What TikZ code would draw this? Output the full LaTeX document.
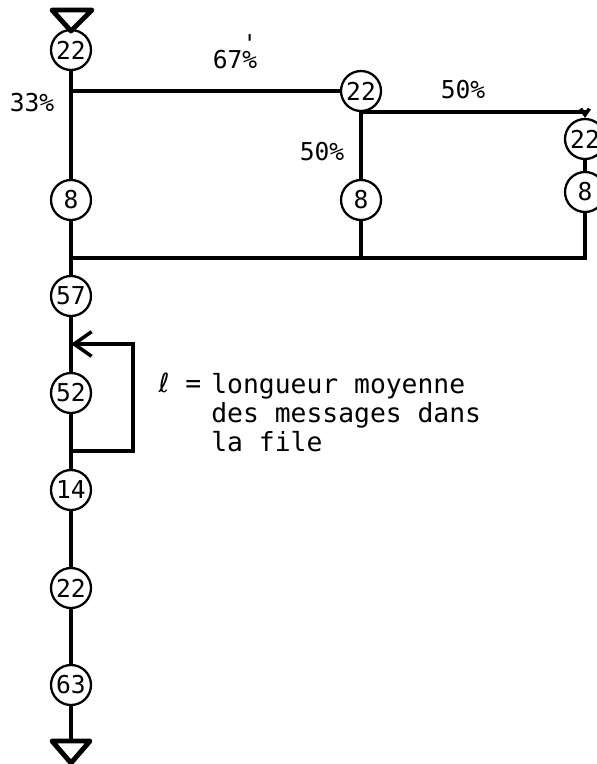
\documentclass[tikz,border=0pt]{standalone}
\usepackage{fontspec}
\newfontfamily\plotter{DejaVu Sans Mono}
\newfontfamily\plotsans{DejaVu Sans}
\usetikzlibrary{arrows.meta,positioning,calc}

\begin{document}
\begin{tikzpicture}[
    x=0.02cm, y=-0.02cm,
    >={Straight Barb[length=10pt, width=14pt]},
    queue/.style={draw, circle, line width=1.3pt, minimum size=0.8cm, inner sep=0pt,
                  font=\plotter\fontsize{14}{16}\selectfont},
    flow/.style={line width=2pt},
    term/.style={line width=2.8pt, line join=round},
    pct/.style={font=\plotter\fontsize{14}{16}\selectfont},
    note/.style={font=\plotter\fontsize{15}{16.5}\selectfont, align=left, inner sep=0pt},
]
\useasboundingbox (0,0) rectangle (597,764);

% source
\draw[term] (52,10) -- (92,10) -- (71,31) -- cycle;

% upper part, three branches
\node[queue] (q1) at (71,50) {22};
\node[queue] (q2) at (361,91) {22};
\node[queue] (q3) at (585,139) {22};
\node[queue] (q4) at (71,200) {8};
\node[queue] (q5) at (361,200) {8};
\node[queue] (q6) at (585,192) {8};
\coordinate (merge) at (71,258);

\draw[flow] (q1.south) -- (q4.north);
\draw[flow] (q1 |- q2.west) -- (q2.west);
\draw[flow, -{Straight Barb[length=3.5pt, width=5pt]}] (q2.south) -| (q3.north);
\draw[flow] (q2.south) -- (q5.north);
\draw[flow] (q3.south) -- (q6.north);
\foreach \q in {q5, q6}
    \draw[flow] (\q.south) |- (merge);

\node[pct, anchor=base] (p67) at (235,68) {67\%\llap{\raisebox{0.65em}{'}}};
\node[pct] (p33) at (32,103) {33\%};
\node[pct] (p50a) at (463,90) {50\%};
\node[pct] (p50b) at (322,152) {50\%};

% lower part, with feedback loop
\node[queue] (q7) at (71,296) {57};
\node[queue] (q8) at (71,393) {52};
\node[queue] (q9) at (71,490) {14};
\node[queue] (q10) at (71,588) {22};
\node[queue] (q11) at (71,685) {63};
\coordinate (fbin) at (71,344);
\coordinate (fbout) at (71,451);
\coordinate (out) at (71,741);

\draw[flow] (q4.south) -- (q7.north);
\draw[flow] (q7.south) -- (q8.north);
\draw[flow, ->] (fbout) -- ++(62,0) |- (fbin);
\foreach \a/\b in {q8/q9, q9/q10, q10/q11}
    \draw[flow] (\a.south) -- (\b.north);
\draw[flow] (q11.south) -- (out);

% sink
\draw[term] (52,741) -- (90,741) -- (71,763) -- cycle;

% legend
\node[note] (ell) at (180,383) {{\plotsans ℓ} =};
\node[note, anchor=north west] (legend) at (211,373) {longueur moyenne\\des messages dans\\la file};
\end{tikzpicture}
\end{document}
